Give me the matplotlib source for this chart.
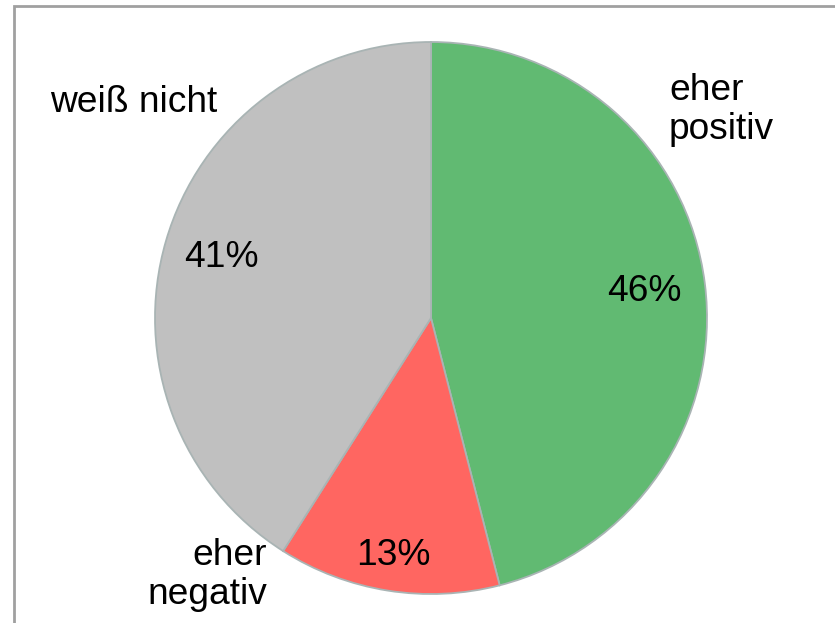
import matplotlib
matplotlib.use("Agg")
import matplotlib.pyplot as plt
from matplotlib.patches import Rectangle
import numpy as np

categories = ["eher positiv", "eher negativ", "weiß nicht"]
values = [46, 13, 41]
colors = ["#61BA72", "#FF6661", "#C0C0C0"]

plt.rcParams['font.family'] = ['Liberation Sans', 'DejaVu Sans']
FS = 26.7

W, H = 835, 623
fig = plt.figure(figsize=(W/100, H/100), dpi=100)
ax = fig.add_axes([0, 0, 1, 1])

# frame border
ax.add_patch(Rectangle((14, -10), W, H - 6 + 10, fill=False, edgecolor="#A0A0A0", linewidth=2))

cx, cy, r = 431, H - 318, 276
wedges, texts, autotexts = ax.pie(values, colors=colors, startangle=90, counterclock=False,
                                  center=(cx, cy), radius=r, autopct='%d%%', pctdistance=0.79,
                                  wedgeprops=dict(edgecolor="#A9B4B4", linewidth=1.3),
                                  textprops=dict(fontsize=FS, color='black'), frame=True)
ax.set_xlim(0, W)
ax.set_ylim(0, H)
ax.set_aspect('equal')
ax.axis('off')

pdist = [0.78, 0.87, 0.79]
for w, t, d in zip(wedges, autotexts, pdist):
    ang = np.deg2rad((w.theta1 + w.theta2) / 2)
    t.set_position((cx + d * r * np.cos(ang), cy + d * r * np.sin(ang)))

ax.text(669, H - 110, "eher\npositiv", ha='left', va='center', fontsize=FS, linespacing=1.15)
ax.text(217, H - 103, "weiß nicht", ha='right', va='center', fontsize=FS)
ax.text(267, H - 575, "eher\nnegativ", ha='right', va='center', fontsize=FS, linespacing=1.15, multialignment='right')

fig.savefig("out.png", dpi=100)
